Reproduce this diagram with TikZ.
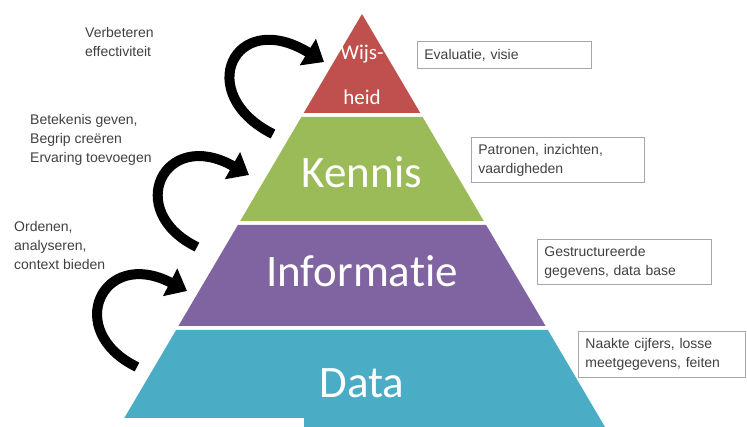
\documentclass[tikz,border=0pt]{standalone}
\usepackage{fontspec}
\setmainfont{Liberation Sans}
\newfontfamily\laagfont[Ligatures=NoCommon]{Carlito}
\usepackage{xcolor}
\usetikzlibrary{arrows.meta}

\definecolor{wijsrood}{HTML}{C0504D}
\definecolor{kennisgroen}{HTML}{9BBB59}
\definecolor{infopaars}{HTML}{8064A2}
\definecolor{datablauw}{HTML}{4BACC6}
\definecolor{tekstgrijs}{HTML}{404040}
\definecolor{kadergrijs}{HTML}{A6A6A6}

\begin{document}
\begin{tikzpicture}[
  x=1pt, y=-1pt,
  laag/.style={anchor=base, inner sep=0pt, text=white, font=\laagfont\fontsize{45}{45}\selectfont},
  toplaag/.style={laag, font=\laagfont\fontsize{21}{21}\selectfont},
  kader/.style={draw=kadergrijs, line width=0.8pt, anchor=north west, align=left, inner xsep=7pt, inner ysep=0pt, text=tekstgrijs, font=\fontsize{14}{19}\selectfont},
  uitleg/.style={anchor=north west, align=left, inner sep=0pt, text=tekstgrijs, font=\fontsize{14}{19}\selectfont},
  boog/.style={line width=10pt, -{Triangle[length=19pt, width=30pt]}}]
  \useasboundingbox (0,0) rectangle (747,427);
  \fill[wijsrood] (362,14) -- (420.3,113) -- (303.7,113) -- cycle;
  \fill[kennisgroen] (301.4,117) -- (422.6,117) -- (483.8,221) -- (240.2,221) -- cycle;
  \fill[infopaars] (237.9,225) -- (486.1,225) -- (545.6,326) -- (178.4,326) -- cycle;
  \fill[datablauw] (176.1,330) -- (547.9,330) -- (605,427) -- (119,427) -- cycle;
  \fill[white] (110,418) rectangle (304,427);
  \node[toplaag] (wijs) at (362,60) {Wijs-};
  \node[toplaag] (heid) at (362,105) {heid};
  \node[laag] (kennis) at (362,188) {Kennis};
  \node[laag] (informatie) at (362,287) {Informatie};
  \node[laag] (data) at (362,398) {Data};
  \node[kader, text width=160pt, minimum height=27pt] (evaluatie) at (417,41) {Evaluatie, visie};
  \node[kader, text width=159pt, minimum height=45pt] (patronen) at (471,137) {Patronen, inzichten,\\vaardigheden};
  \node[kader, text width=160pt, minimum height=45pt] (gestructureerd) at (537,239) {Gestructureerde\\gegevens, data base};
  \node[kader, text width=153pt, minimum height=46pt] (naakt) at (578,331) {Naakte cijfers, losse\\meetgegevens, feiten};
  \node[uitleg] (verbeteren) at (85,27) {Verbeteren\\effectiviteit};
  \node[uitleg] (betekenis) at (30,114) {Betekenis geven,\\Begrip creëren\\Ervaring toevoegen};
  \node[uitleg] (ordenen) at (14,221) {Ordenen,\\analyseren,\\context bieden};
  \coordinate (wijs-staart) at (273,134);
  \coordinate (wijs-punt) at (324,62);
  \coordinate (kennis-staart) at (197,247);
  \coordinate (kennis-punt) at (249,175);
  \coordinate (info-staart) at (137,367);
  \coordinate (info-punt) at (187,291);
  \draw[boog] (wijs-staart) .. controls +(-80,-40) and +(-90,-55) .. (wijs-punt);
  \draw[boog] (kennis-staart) .. controls +(-74,-36) and +(-85,-48) .. (kennis-punt);
  \draw[boog] (info-staart) .. controls +(-74,-36) and +(-85,-44) .. (info-punt);
\end{tikzpicture}
\end{document}
